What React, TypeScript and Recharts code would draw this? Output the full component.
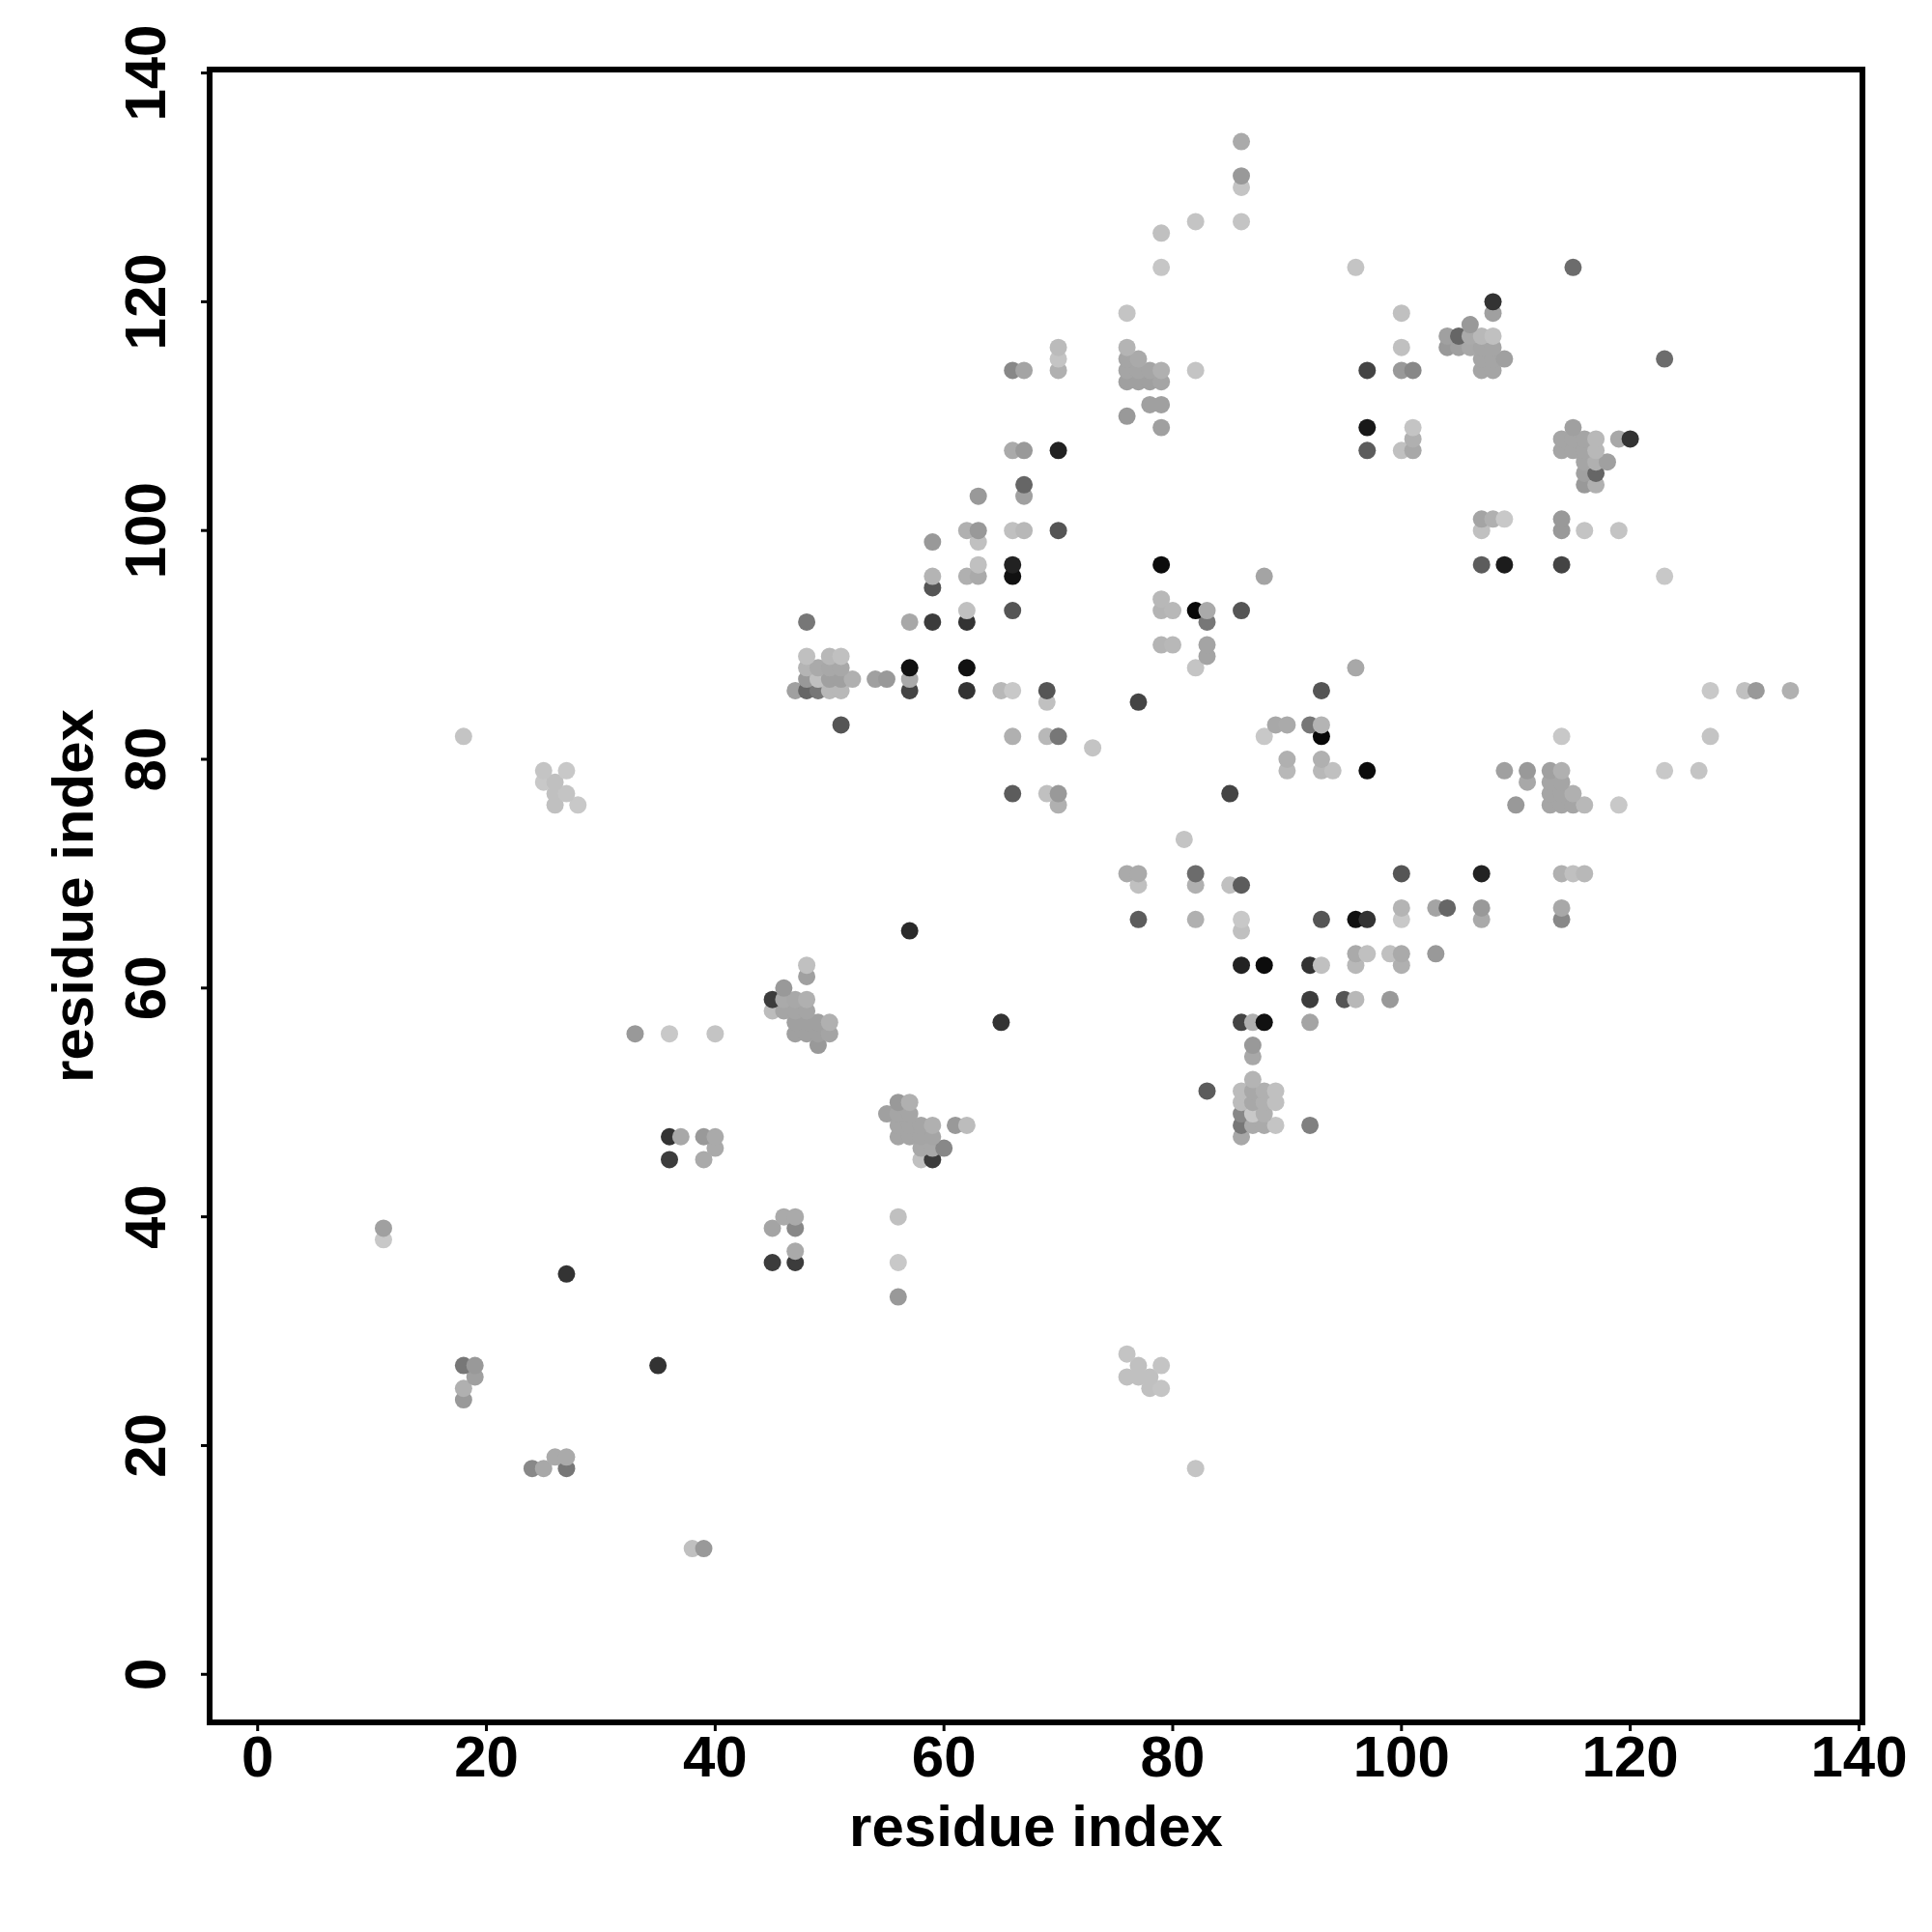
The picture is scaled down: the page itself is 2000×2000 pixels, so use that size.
import { ScatterChart, Scatter, XAxis, YAxis, ZAxis, Cell, ReferenceArea } from "recharts";

type Contact = [number, number, number]; // residue i, residue j, grey level

const axisTicks = [0, 20, 40, 60, 80, 100, 120, 140];
const axisLabel = "residue index";

const contactsBelow30: Contact[] = [
  [39,11,153],[38,11,192],[82,18,196],[24,18,136],[25,18,168],[27,18,119],[26,19,170],[27,19,170],
  [18,24,153],[18,25,176],[78,25,192],[79,25,196],[19,26,160],[76,26,192],[77,26,192],[78,26,192],
  [18,27,119],[19,27,153],[35,27,51],[77,27,192],[79,27,196],[76,28,196],
];

const contacts30to49: Contact[] = [
  [56,33,153],[27,35,51],[45,36,60],[47,36,60],[56,36,200],[47,37,170],[11,38,200],[11,39,160],
  [45,39,164],[47,39,136],[46,40,170],[47,40,170],[56,40,192],
  [36,45,60],[39,45,170],[58,45,192],[59,45,60],[40,46,170],[58,46,168],[59,46,168],[60,46,136],
  [36,47,51],[37,47,168],[39,47,153],[40,47,170],[56,47,165],[57,47,165],[58,47,165],[59,47,165],[86,47,168],
  [56,48,165],[57,48,165],[58,48,165],[59,48,176],[61,48,153],[62,48,188],[86,48,119],[87,48,170],[88,48,170],[89,48,196],[92,48,128],
  [55,49,160],[56,49,165],[57,49,165],[86,49,136],[87,49,200],[88,49,176],
];

const contacts50to59: Contact[] = [
  [56,50,153],[57,50,176],[86,50,188],[87,50,168],[88,50,176],[89,50,192],
  [83,51,92],[86,51,188],[87,51,168],[88,51,176],[89,51,192],[87,52,180],[87,54,168],[87,55,153],
  [49,55,153],[33,56,153],[36,56,200],[40,56,196],[47,56,160],[48,56,160],[49,56,160],[50,56,164],
  [47,57,160],[48,57,160],[49,57,160],[50,57,176],[65,57,51],[86,57,68],[87,57,176],[88,57,17],[92,57,164],
  [45,58,188],[46,58,165],[47,58,165],[48,58,165],[45,59,60],[46,59,170],[47,59,168],[48,59,176],
  [92,59,60],[95,59,85],[96,59,184],[99,59,153],
];

const contacts60to79: Contact[] = [
  [46,60,153],[48,61,160],[48,62,192],[86,62,34],[88,62,12],[92,62,51],[93,62,192],[96,62,184],[100,62,176],
  [96,63,170],[97,63,192],[99,63,192],[100,63,170],[103,63,153],[57,65,42],[86,65,192],
  [77,66,92],[82,66,176],[86,66,200],[93,66,85],[96,66,17],[97,66,51],[100,66,200],[107,66,170],[114,66,136],
  [100,67,180],[103,67,164],[104,67,102],[107,67,153],[114,67,168],
  [77,69,192],[82,69,176],[85,69,192],[86,69,92],
  [76,70,170],[77,70,170],[82,70,108],[100,70,85],[107,70,34],[114,70,176],[115,70,192],[116,70,184],[81,73,196],
  [26,76,192],[28,76,200],[70,76,176],[110,76,153],[113,76,165],[114,76,165],[115,76,165],[116,76,184],[119,76,200],
  [26,77,192],[27,77,196],[66,77,92],[69,77,192],[70,77,153],[85,77,68],[113,77,165],[114,77,165],[115,77,176],
  [25,78,200],[26,78,192],[111,78,168],[113,78,165],[114,78,165],
  [25,79,196],[27,79,200],[90,79,184],[93,79,184],[94,79,192],[97,79,12],[109,79,160],[111,79,153],[113,79,160],[114,79,176],[123,79,200],[126,79,196],
];

const contacts80to99: Contact[] = [
  [90,80,176],[93,80,176],[73,81,196],
  [18,82,196],[66,82,176],[69,82,184],[70,82,119],[88,82,200],[93,82,8],[114,82,200],[127,82,196],
  [51,83,85],[89,83,168],[90,83,170],[92,83,119],[93,83,180],[69,85,192],[77,85,68],
  [47,86,160],[48,86,102],[49,86,119],[50,86,184],[51,86,184],[57,86,68],[62,86,51],[65,86,184],[66,86,200],[69,86,85],[93,86,85],[127,86,200],[130,86,192],[131,86,153],[134,86,176],
  [48,87,153],[49,87,192],[50,87,160],[51,87,160],[52,87,176],[54,87,160],[55,87,153],[57,87,170],
  [48,88,180],[49,88,170],[50,88,168],[51,88,168],[57,88,17],[62,88,17],[82,88,196],[96,88,168],
  [48,89,192],[50,89,184],[51,89,192],[83,89,164],[79,90,180],[80,90,184],[83,90,164],
  [48,92,119],[57,92,168],[59,92,60],[62,92,51],[83,92,119],
  [62,93,192],[66,93,85],[79,93,180],[80,93,184],[82,93,8],[83,93,170],[86,93,85],[79,94,184],
  [59,95,85],[59,96,180],[62,96,176],[63,96,170],[66,96,17],[88,96,164],[123,96,200],
  [63,97,192],[66,97,34],[79,97,12],[107,97,92],[109,97,28],[114,97,68],[59,99,153],[63,99,192],
];

const contactsAbove99: Contact[] = [
  [62,100,176],[63,100,153],[66,100,192],[67,100,184],[70,100,85],[107,100,192],[114,100,153],[116,100,196],[119,100,196],
  [107,101,164],[108,101,176],[109,101,200],[114,101,153],
  [63,103,153],[67,103,160],[67,104,102],[116,104,153],[117,104,176],
  [116,105,160],[117,105,102],[116,106,165],[117,106,176],[118,106,160],
  [66,107,170],[67,107,153],[70,107,34],[97,107,92],[100,107,192],[101,107,168],[114,107,165],[115,107,165],[116,107,165],[117,107,184],
  [101,108,176],[114,108,165],[115,108,165],[116,108,165],[117,108,184],[119,108,168],[120,108,51],
  [79,109,160],[97,109,24],[101,109,196],[115,109,160],[76,110,153],[78,111,160],[79,111,160],
  [76,113,160],[77,113,160],[78,113,160],[79,113,165],
  [66,114,136],[67,114,164],[70,114,176],[76,114,165],[77,114,165],[78,114,165],[79,114,176],[82,114,196],[97,114,68],[100,114,153],[101,114,136],[107,114,165],[108,114,165],
  [70,115,196],[76,115,165],[77,115,170],[107,115,165],[108,115,165],[109,115,160],[123,115,108],
  [70,116,187],[76,116,180],[100,116,192],[104,116,153],[105,116,160],[106,116,168],[107,116,165],[108,116,165],
  [104,117,160],[105,117,102],[106,117,170],[107,117,184],[108,117,192],[106,118,153],
  [76,119,196],[100,119,192],[108,119,160],[108,120,51],[79,123,198],[96,123,196],[115,123,108],
  [79,126,192],[82,127,196],[86,127,196],[86,130,196],[86,131,153],[86,134,170],
];

// original plot paints row by row, so later rows sit on top
const points = [
  ...contactsBelow30, ...contacts30to49, ...contacts50to59,
  ...contacts60to79, ...contacts80to99, ...contactsAbove99,
]
  .sort((a, b) => a[1] - b[1] || a[0] - b[0])
  .map(([x, y, grey]) => ({ x, y, grey }));

const FONT = "'Liberation Sans', Arial, sans-serif";
const DOMAIN: [number, number] = [-4.2, 140.3];
const textStyle = { fontFamily: FONT, fontSize: 60, fontWeight: 700, fill: "#000" };

function XTick({ x, payload }: any) {
  return (
    <text x={x} y={1839} textAnchor="middle" {...textStyle}>
      {payload.value}
    </text>
  );
}

function YTick({ y, payload }: any) {
  return (
    <text x={171} y={y} textAnchor="middle" transform={`rotate(-90 171 ${y})`} {...textStyle}>
      {payload.value}
    </text>
  );
}

export default function App() {
  return (
    <div style={{ position: "absolute", left: 0, top: 0, width: 2000, height: 2000, background: "#fff" }}>
      <ScatterChart width={2000} height={2000} margin={{ top: 72, right: 72, bottom: 0, left: 0 }}>
        <XAxis
          type="number" dataKey="x" domain={DOMAIN} ticks={axisTicks} interval={0} allowDataOverflow
          height={217} axisLine={false} tickSize={9} tick={<XTick />}
          tickLine={{ stroke: "#000", strokeWidth: 3 }}
          label={{ value: axisLabel, position: "insideBottom", offset: 89, ...textStyle }}
        />
        <YAxis
          type="number" dataKey="y" domain={DOMAIN} ticks={axisTicks} interval={0} allowDataOverflow
          width={217} axisLine={false} tickSize={9} tick={<YTick />}
          tickLine={{ stroke: "#000", strokeWidth: 3 }}
          label={{ value: axisLabel, angle: -90, position: "insideLeft", offset: 75, style: { textAnchor: "middle" }, ...textStyle }}
        />
        <ZAxis type="number" dataKey="grey" range={[254, 254]} />
        <ReferenceArea x1={DOMAIN[0]} x2={DOMAIN[1]} y1={DOMAIN[0]} y2={DOMAIN[1]} fill="none" stroke="#000" strokeWidth={6} fillOpacity={0} />
        <Scatter data={points} isAnimationActive={false}>
          {points.map((p, i) => (
            <Cell key={i} fill={`rgb(${p.grey},${p.grey},${p.grey})`} />
          ))}
        </Scatter>
      </ScatterChart>
    </div>
  );
}
